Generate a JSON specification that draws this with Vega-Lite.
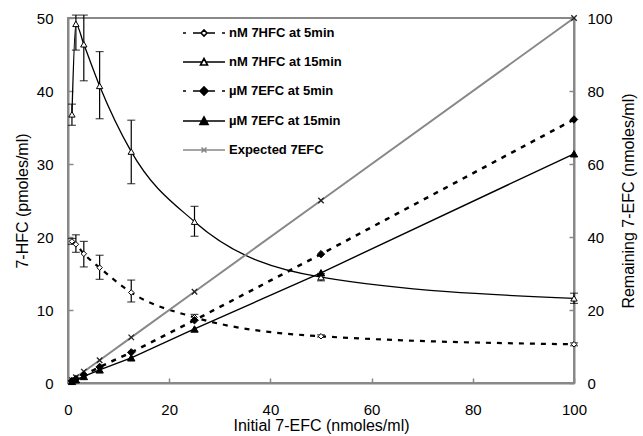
{
  "$schema": "https://vega.github.io/schema/vega-lite/v6.json",
  "width": 506,
  "height": 365,
  "autosize": "none",
  "padding": {"left": 68, "top": 18, "right": 69, "bottom": 53},
  "background": "white",
  "config": {
    "font": "Liberation Sans",
    "view": {"stroke": "#888", "strokeWidth": 2},
    "axis": {
      "domainColor": "#888", "domainWidth": 2,
      "tickColor": "#888", "tickWidth": 1.5, "tickSize": -5,
      "grid": false, "labelFlush": false,
      "labelFont": "Liberation Sans", "labelFontSize": 15, "labelColor": "black",
      "titleFont": "Liberation Sans", "titleFontSize": 16, "titleFontWeight": "normal", "titleColor": "black"
    }
  },
  "datasets": {
    "left": [
      {"x": 0.78, "series": "nM 7HFC at 5min", "y": 19.4, "lo": 19.0, "hi": 19.8},
      {"x": 1.56, "series": "nM 7HFC at 5min", "y": 19.0, "lo": 17.9, "hi": 20.3},
      {"x": 3.125, "series": "nM 7HFC at 5min", "y": 17.7, "lo": 15.9, "hi": 19.4},
      {"x": 6.25, "series": "nM 7HFC at 5min", "y": 15.8, "lo": 14.2, "hi": 17.5},
      {"x": 12.5, "series": "nM 7HFC at 5min", "y": 12.4, "lo": 11.1, "hi": 14.1},
      {"x": 25, "series": "nM 7HFC at 5min", "y": 9.0, "lo": 8.6, "hi": 9.4},
      {"x": 50, "series": "nM 7HFC at 5min", "y": 6.4, "lo": 6.3, "hi": 6.6},
      {"x": 100, "series": "nM 7HFC at 5min", "y": 5.3, "lo": 5.1, "hi": 5.5},
      {"x": 0.78, "series": "nM 7HFC at 15min", "y": 36.8, "lo": 35.3, "hi": 38.2},
      {"x": 1.56, "series": "nM 7HFC at 15min", "y": 49.2, "lo": 45.6, "hi": 50.4},
      {"x": 3.125, "series": "nM 7HFC at 15min", "y": 46.4, "lo": 41.4, "hi": 50.4},
      {"x": 6.25, "series": "nM 7HFC at 15min", "y": 40.7, "lo": 36.2, "hi": 45.4},
      {"x": 12.5, "series": "nM 7HFC at 15min", "y": 31.7, "lo": 27.3, "hi": 36.0},
      {"x": 25, "series": "nM 7HFC at 15min", "y": 22.1, "lo": 20.1, "hi": 24.2},
      {"x": 50, "series": "nM 7HFC at 15min", "y": 14.5, "lo": 14.0, "hi": 15.0},
      {"x": 100, "series": "nM 7HFC at 15min", "y": 11.6, "lo": 10.9, "hi": 12.3}
    ],
    "right": [
      {"x": 0.78, "series": "µM 7EFC at 5min", "y": 0.55},
      {"x": 1.56, "series": "µM 7EFC at 5min", "y": 1.1},
      {"x": 3.125, "series": "µM 7EFC at 5min", "y": 2.2},
      {"x": 6.25, "series": "µM 7EFC at 5min", "y": 4.4},
      {"x": 12.5, "series": "µM 7EFC at 5min", "y": 8.4},
      {"x": 25, "series": "µM 7EFC at 5min", "y": 17.2},
      {"x": 50, "series": "µM 7EFC at 5min", "y": 35.3},
      {"x": 100, "series": "µM 7EFC at 5min", "y": 72.2},
      {"x": 0.78, "series": "µM 7EFC at 15min", "y": 0.45},
      {"x": 1.56, "series": "µM 7EFC at 15min", "y": 0.9},
      {"x": 3.125, "series": "µM 7EFC at 15min", "y": 1.8},
      {"x": 6.25, "series": "µM 7EFC at 15min", "y": 3.6},
      {"x": 12.5, "series": "µM 7EFC at 15min", "y": 6.9},
      {"x": 25, "series": "µM 7EFC at 15min", "y": 14.8},
      {"x": 50, "series": "µM 7EFC at 15min", "y": 30.2},
      {"x": 100, "series": "µM 7EFC at 15min", "y": 62.8},
      {"x": 0.78, "series": "Expected 7EFC", "y": 0.78},
      {"x": 1.56, "series": "Expected 7EFC", "y": 1.56},
      {"x": 3.125, "series": "Expected 7EFC", "y": 3.125},
      {"x": 6.25, "series": "Expected 7EFC", "y": 6.25},
      {"x": 12.5, "series": "Expected 7EFC", "y": 12.5},
      {"x": 25, "series": "Expected 7EFC", "y": 25},
      {"x": 50, "series": "Expected 7EFC", "y": 50},
      {"x": 100, "series": "Expected 7EFC", "y": 100}
    ]
  },
  "layer": [
    {
      "data": {"name": "left"},
      "encoding": {
        "x": {"field": "x", "type": "quantitative", "scale": {"domain": [0, 100], "nice": false},
          "axis": {"values": [0, 20, 40, 60, 80, 100], "labelPadding": 24, "titlePadding": 0, "title": "Initial 7-EFC (nmoles/ml)"}},
        "y": {"field": "y", "type": "quantitative", "scale": {"domain": [0, 50], "nice": false},
          "axis": {"orient": "left", "values": [0, 10, 20, 30, 40, 50], "labelPadding": 20, "titlePadding": 6, "title": "7-HFC (pmoles/ml)"}}
      },
      "layer": [
        {
          "mark": {"type": "errorbar", "ticks": {"size": 8, "color": "black", "thickness": 1.2}, "rule": {"color": "black", "strokeWidth": 1.2}},
          "encoding": {
            "y": {"field": "lo", "type": "quantitative", "scale": {"domain": [0, 50], "nice": false},
              "axis": {"orient": "left", "values": [0, 10, 20, 30, 40, 50], "labelPadding": 20, "titlePadding": 6, "title": "7-HFC (pmoles/ml)"}},
            "y2": {"field": "hi"}
          }
        },
        {
          "transform": [{"filter": "datum.series === 'nM 7HFC at 5min'"}],
          "mark": {"type": "line", "interpolate": "monotone", "strokeDash": [5, 6], "strokeWidth": 2.2},
          "encoding": {
            "color": {"field": "series", "type": "nominal",
              "scale": {"domain": ["nM 7HFC at 5min", "nM 7HFC at 15min", "µM 7EFC at 5min", "µM 7EFC at 15min", "Expected 7EFC"],
                "range": ["black", "black", "black", "black", "#888888"]},
              "legend": {
                "orient": "none", "legendX": 125, "legendY": 4, "title": null, "padding": 0,
                "symbolSize": 400, "labelOffset": 14, "rowPadding": 11,
                "labelFont": "Liberation Sans", "labelFontSize": 13, "labelFontWeight": "bold", "labelColor": "black", "labelLimit": 300,
                "encode": {"symbols": {"update": {
                  "shape": {"signal": "datum.value === 'nM 7HFC at 5min' ? 'M-2.1,0H-1.8M-1.1,0H-0.35M0.35,0H1.1M1.8,0H2.1M-0.3,0L0,-0.3L0.3,0L0,0.3Z' : datum.value === 'nM 7HFC at 15min' ? 'M-2.1,0H-0.22M0.22,0H2.1M-0.35,0.3L0,-0.35L0.35,0.3Z' : datum.value === 'Expected 7EFC' ? 'M-2.1,0H2.1M-0.25,-0.25L0.25,0.25M-0.25,0.25L0.25,-0.25' : datum.value === 'µM 7EFC at 15min' ? 'M-2.1,0H2.1M-0.4,0.35L0,-0.4L0.4,0.35Z' : 'M-2.1,0H-1.8M-1.1,0H-0.4M0.4,0H1.1M1.8,0H2.1M-0.4,0L0,-0.4L0.4,0L0,0.4Z'"},
                  "fill": {"signal": "datum.value === 'nM 7HFC at 5min' || datum.value === 'nM 7HFC at 15min' ? 'white' : datum.value === 'Expected 7EFC' ? 'transparent' : 'black'"},
                  "stroke": {"signal": "datum.value === 'Expected 7EFC' ? '#888888' : 'black'"},
                  "strokeWidth": {"value": 1.6},
                  "strokeDash": {"value": []},
                  "size": {"value": 400},
                  "opacity": {"value": 1},
                  "fillOpacity": {"value": 1},
                  "strokeOpacity": {"value": 1}
                }}}
              }}
          }
        },
        {
          "transform": [{"filter": "datum.series === 'nM 7HFC at 15min'"}],
          "mark": {"type": "line", "interpolate": "monotone", "strokeWidth": 1.3},
          "encoding": {
            "color": {"field": "series", "type": "nominal",
              "scale": {"domain": ["nM 7HFC at 5min", "nM 7HFC at 15min", "µM 7EFC at 5min", "µM 7EFC at 15min", "Expected 7EFC"],
                "range": ["black", "black", "black", "black", "#888888"]}}
          }
        },
        {
          "transform": [{"filter": "datum.series === 'nM 7HFC at 5min'"}],
          "mark": {"type": "point", "shape": "diamond", "size": 30, "fill": "white", "stroke": "black", "strokeWidth": 1, "opacity": 1, "filled": true}
        },
        {
          "transform": [{"filter": "datum.series === 'nM 7HFC at 15min'"}],
          "mark": {"type": "point", "shape": "triangle-up", "size": 40, "fill": "white", "stroke": "black", "strokeWidth": 1, "opacity": 1, "filled": true}
        }
      ]
    },
    {
      "data": {"name": "right"},
      "encoding": {
        "x": {"field": "x", "type": "quantitative", "scale": {"domain": [0, 100], "nice": false},
          "axis": {"values": [0, 20, 40, 60, 80, 100], "labelPadding": 24, "titlePadding": 0, "title": "Initial 7-EFC (nmoles/ml)"}},
        "y": {"field": "y", "type": "quantitative", "scale": {"domain": [0, 100], "nice": false},
          "axis": {"orient": "right", "values": [0, 20, 40, 60, 80, 100], "labelPadding": 18, "titlePadding": 8, "titleAngle": 270, "titleBaseline": "top", "title": "Remaining 7-EFC (nmoles/ml)"}}
      },
      "layer": [
        {
          "transform": [{"filter": "datum.series === 'Expected 7EFC'"}],
          "mark": {"type": "line", "strokeWidth": 2},
          "encoding": {
            "color": {"field": "series", "type": "nominal",
              "scale": {"domain": ["nM 7HFC at 5min", "nM 7HFC at 15min", "µM 7EFC at 5min", "µM 7EFC at 15min", "Expected 7EFC"],
                "range": ["black", "black", "black", "black", "#888888"]}}
          }
        },
        {
          "transform": [{"filter": "datum.series === 'µM 7EFC at 5min'"}],
          "mark": {"type": "line", "strokeWidth": 2.5, "strokeDash": [5, 6]},
          "encoding": {
            "color": {"field": "series", "type": "nominal",
              "scale": {"domain": ["nM 7HFC at 5min", "nM 7HFC at 15min", "µM 7EFC at 5min", "µM 7EFC at 15min", "Expected 7EFC"],
                "range": ["black", "black", "black", "black", "#888888"]}}
          }
        },
        {
          "transform": [{"filter": "datum.series === 'µM 7EFC at 15min'"}],
          "mark": {"type": "line", "strokeWidth": 1.4},
          "encoding": {
            "color": {"field": "series", "type": "nominal",
              "scale": {"domain": ["nM 7HFC at 5min", "nM 7HFC at 15min", "µM 7EFC at 5min", "µM 7EFC at 15min", "Expected 7EFC"],
                "range": ["black", "black", "black", "black", "#888888"]}}
          }
        },
        {
          "transform": [{"filter": "datum.series === 'Expected 7EFC'"}],
          "mark": {"type": "point", "shape": "M-1,-1L1,1M-1,1L1,-1", "size": 30, "stroke": "#222", "strokeWidth": 1.3, "opacity": 1, "filled": false}
        },
        {
          "transform": [{"filter": "datum.series === 'µM 7EFC at 5min'"}],
          "mark": {"type": "point", "shape": "diamond", "size": 55, "fill": "black", "stroke": "black", "strokeWidth": 1, "opacity": 1, "filled": true}
        },
        {
          "transform": [{"filter": "datum.series === 'µM 7EFC at 15min'"}],
          "mark": {"type": "point", "shape": "triangle-up", "size": 55, "fill": "black", "stroke": "black", "strokeWidth": 1, "opacity": 1, "filled": true}
        }
      ]
    }
  ],
  "resolve": {"scale": {"y": "independent"}}
}
